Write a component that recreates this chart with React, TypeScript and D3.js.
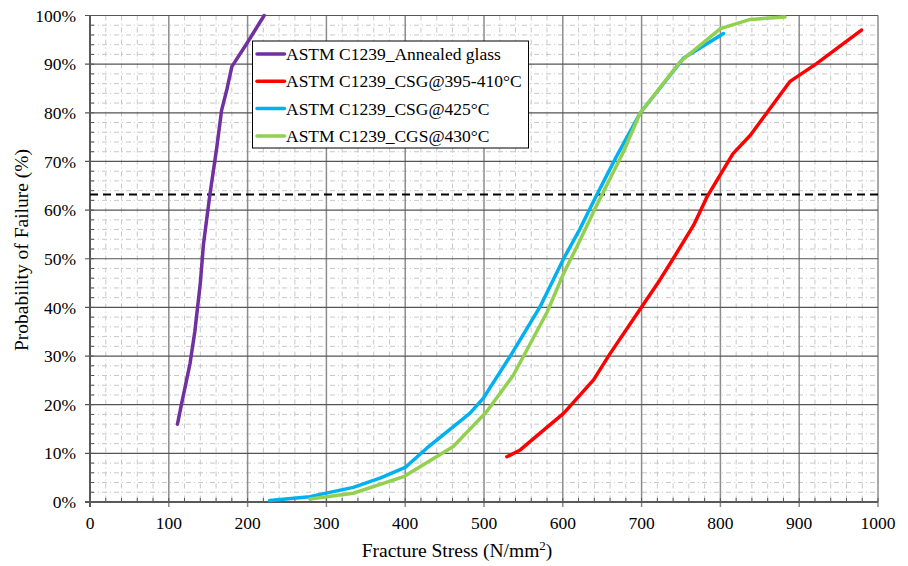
import React from 'react';
import * as d3 from 'd3';

// values
const annealedStress = [111, 116, 127, 133, 140, 144, 152, 161, 167, 174, 180, 200, 221];
const annealedProb = [16, 20, 28.5, 35, 45, 53, 63, 73, 80.5, 85, 89.5, 94.5, 100];

const csg395Stress = [529, 546, 570, 601, 639, 660, 700, 723, 740, 766, 783, 816, 838, 888, 922, 979];
const csg395Prob = [9.3, 10.7, 14, 18.2, 25.1, 30.5, 40.1, 45.6, 50, 56.9, 62.7, 71.6, 75.4, 86.4, 90.1, 97];

const csg425Stress = [228, 279, 334, 368, 400, 427, 482, 499, 533, 571, 601, 622, 643, 668, 698, 753, 804];
const csg425Prob = [0.3, 1.1, 3, 4.9, 7.1, 11, 18.2, 21.3, 29.9, 40.1, 50, 56.2, 63.1, 71, 79.9, 91.2, 96.3];

const cgs430Stress = [279, 334, 398, 461, 503, 537, 580, 601, 618, 643, 677, 698, 749, 800, 838, 882];
const cgs430Prob = [0.6, 1.8, 5.2, 11.4, 18.5, 26, 39, 47, 52.5, 61, 72, 79.9, 90.5, 97.3, 99.2, 99.7];

const seriesNames = [
  'ASTM C1239_Annealed glass',
  'ASTM C1239_CSG@395-410°C',
  'ASTM C1239_CSG@425°C',
  'ASTM C1239_CGS@430°C',
];
const seriesColors = ['#7030A0', '#FF0000', '#00B0F0', '#92D050'];

const xTicks = [0, 100, 200, 300, 400, 500, 600, 700, 800, 900, 1000];
const yTicks = [0, 10, 20, 30, 40, 50, 60, 70, 80, 90, 100];
const refLine = 63.2;

const font = 'Liberation Serif';

export default function App() {
  const left = 90, right = 878, top = 15.5, bottom = 502;
  const x = d3.scaleLinear().domain([0, 1000]).range([left, right]);
  const y = d3.scaleLinear().domain([0, 100]).range([bottom, top]);

  const series = [
    d3.zip(annealedStress, annealedProb),
    d3.zip(csg395Stress, csg395Prob),
    d3.zip(csg425Stress, csg425Prob),
    d3.zip(cgs430Stress, cgs430Prob),
  ];
  const line = d3.line<number[]>().x(d => x(d[0])).y(d => y(d[1]));

  const xMinor = d3.range(0, 1001, 20);
  const yMinor = d3.range(0, 101, 2);

  const legX = 252.5, legY = 41, legW = 276, legH = 107;

  return (
    <svg width={908} height={566} style={{ position: 'absolute', left: 0, top: 0, background: '#fff' }}>
      {/* minor grid */}
      {xMinor.filter(v => v % 100 !== 0).map(v => (
        <line key={'xm' + v} x1={x(v)} x2={x(v)} y1={top} y2={bottom}
          stroke="#c8c8c8" strokeWidth={1} strokeDasharray="5,3,1,3" />
      ))}
      {yMinor.filter(v => v % 10 !== 0).map(v => (
        <line key={'ym' + v} x1={left} x2={right} y1={y(v)} y2={y(v)}
          stroke="#c8c8c8" strokeWidth={1} strokeDasharray="5,3,1,3" />
      ))}
      {/* major grid */}
      {xTicks.slice(1).map(v => (
        <line key={'xg' + v} x1={x(v)} x2={x(v)} y1={top} y2={bottom + 5}
          stroke="#8c8c8c" strokeWidth={1.5} />
      ))}
      {yTicks.slice(1).map(v => (
        <line key={'yg' + v} x1={left - 5} x2={right} y1={y(v)} y2={y(v)}
          stroke="#555" strokeWidth={1.2} />
      ))}
      {/* minor ticks */}
      {xMinor.map(v => (
        <line key={'xt' + v} x1={x(v)} x2={x(v)} y1={bottom} y2={bottom - 4} stroke="#555" strokeWidth={1} />
      ))}
      {yMinor.map(v => (
        <line key={'yt' + v} x1={left} x2={left + 4} y1={y(v)} y2={y(v)} stroke="#555" strokeWidth={1} />
      ))}
      {/* axes */}
      <line x1={left} x2={left} y1={top} y2={bottom + 5} stroke="#595959" strokeWidth={2} />
      <line x1={left - 5} x2={right} y1={bottom} y2={bottom} stroke="#595959" strokeWidth={2} />

      {/* characteristic strength line */}
      <line x1={left} x2={right + 3} y1={y(refLine)} y2={y(refLine)}
        stroke="#000" strokeWidth={2} strokeDasharray="8,5" />

      {/* curves */}
      {series.map((s, i) => (
        <path key={i} d={line(s) || ''} fill="none" stroke={seriesColors[i]}
          strokeWidth={3.5} strokeLinejoin="round" strokeLinecap="round" />
      ))}

      {/* tick labels */}
      {xTicks.map(v => (
        <text key={'xl' + v} x={x(v)} y={bottom + 27} textAnchor="middle"
          fontFamily={font} fontSize={17.5} fill="#000">{v}</text>
      ))}
      {yTicks.map(v => (
        <text key={'yl' + v} x={left - 14} y={y(v)} dy="0.35em" textAnchor="end"
          fontFamily={font} fontSize={17.5} fill="#000">{v}%</text>
      ))}

      {/* axis titles */}
      <text x={457} y={557} textAnchor="middle" fontFamily={font} fontSize={19.5} fill="#000">
        Fracture Stress (N/mm<tspan dy="-7" fontSize={13}>2</tspan><tspan dy="7">)</tspan>
      </text>
      <text transform={`translate(28,250) rotate(-90)`} textAnchor="middle"
        fontFamily={font} fontSize={19.5} fill="#000">Probability of Failure (%)</text>

      {/* legend */}
      <rect x={legX} y={legY} width={legW} height={legH} fill="#fff" stroke="#000" strokeWidth={1} />
      {seriesNames.map((name, i) => {
        const ly = legY + 13 + i * 27.3;
        return (
          <g key={name}>
            <line x1={legX + 4.5} x2={legX + 32} y1={ly} y2={ly} stroke={seriesColors[i]}
              strokeWidth={3.5} strokeLinecap="round" />
            <text x={legX + 33.5} y={ly} dy="0.35em" fontFamily={font} fontSize={17.5} fill="#000">{name}</text>
          </g>
        );
      })}
    </svg>
  );
}
